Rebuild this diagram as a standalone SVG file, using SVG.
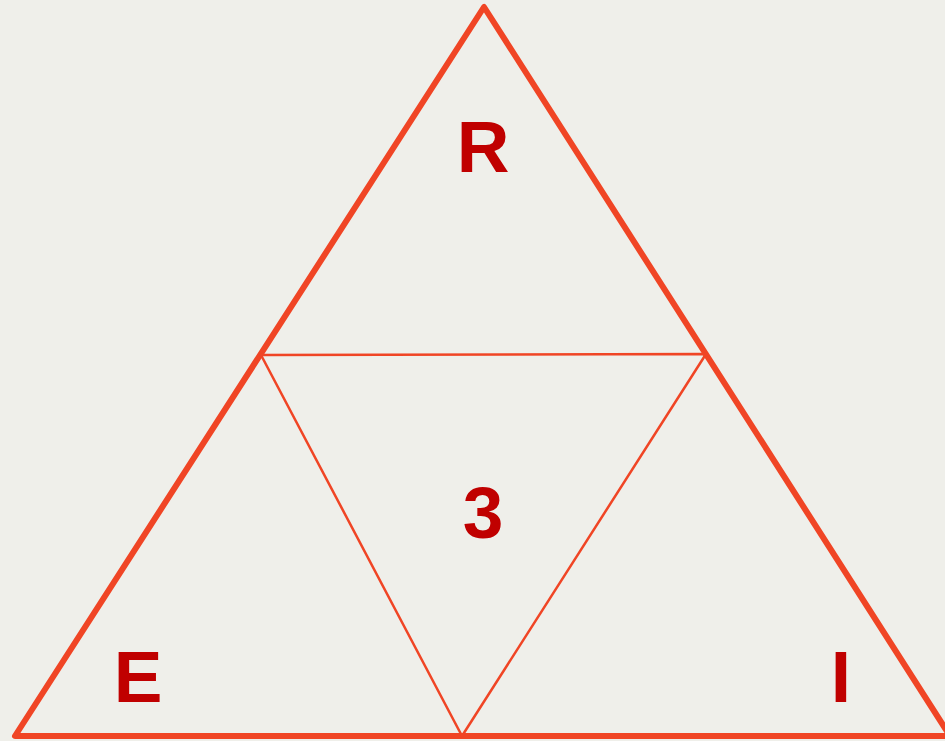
<svg xmlns="http://www.w3.org/2000/svg" width="945" height="741" viewBox="0 0 945 741">
<style>
.outer{fill:none;stroke:#F04525;stroke-width:6;stroke-linejoin:round;stroke-linecap:round}
.inner{fill:none;stroke:#F04525;stroke-width:2.5;stroke-linejoin:round}
.lbl{font-family:"Liberation Sans",Arial,sans-serif;font-weight:bold;font-size:73px;fill:#C00000;text-anchor:middle}
</style>
<rect width="945" height="741" fill="#EFEFEA"/>
<g id="connectors">
<polygon class="outer" points="484,7 15,736 950,736"/>
<polygon class="inner" points="261,355 706,354 462,736"/>
</g>
<g id="node-R"><text class="lbl" x="483" y="172">R</text></g>
<g id="node-3"><text class="lbl" x="483" y="538">3</text></g>
<g id="node-E"><text class="lbl" x="138" y="702">E</text></g>
<g id="node-I"><text class="lbl" x="841" y="702">I</text></g>
</svg>
